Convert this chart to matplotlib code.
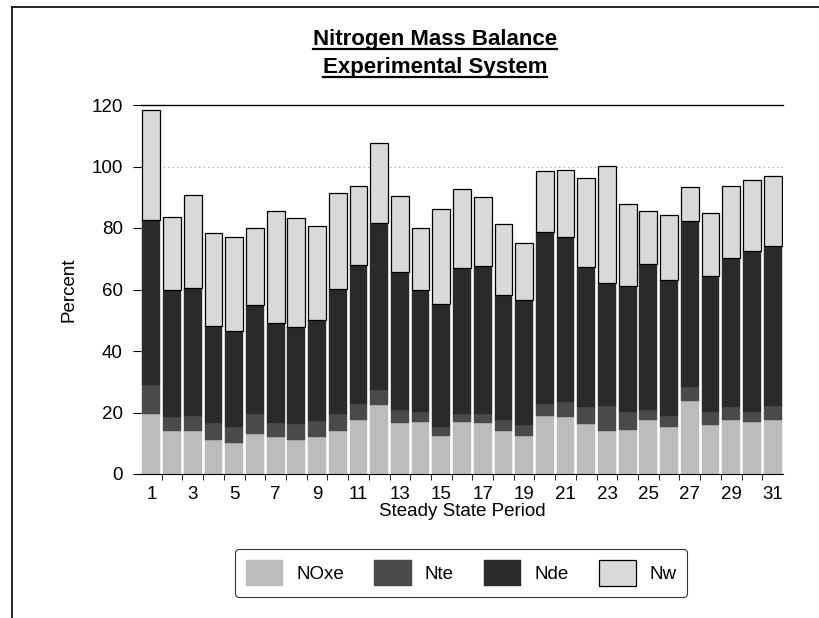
import matplotlib
matplotlib.use('Agg')
import matplotlib.pyplot as plt
from matplotlib.lines import Line2D
import numpy as np

plt.rcParams['font.family'] = ['Liberation Sans', 'DejaVu Sans']

# Данные: доли азота по периодам (%)
periods = list(range(1, 32))
noxe = [19.6, 14.1, 14.1, 11.0, 10.0, 13.0, 12.0, 10.9, 12.0, 14.1, 17.6, 22.3, 16.5, 16.8, 12.2, 16.8,
        16.5, 14.1, 12.5, 19.0, 18.5, 16.3, 14.1, 14.3, 17.4, 15.2, 23.9, 15.8, 17.4, 16.8, 17.4]
nte = [9.2, 4.4, 4.9, 5.5, 5.2, 6.6, 4.5, 5.2, 5.2, 5.5, 5.2, 5.1, 4.2, 3.3, 3.0, 2.8,
       3.1, 3.3, 3.3, 3.8, 4.9, 5.4, 7.9, 5.8, 3.3, 3.8, 4.4, 4.3, 4.3, 3.3, 4.6]
nde = [53.8, 41.5, 41.5, 31.5, 31.2, 35.3, 32.6, 31.7, 33.0, 40.7, 45.1, 54.3, 45.1, 39.7, 40.0, 47.5,
       48.1, 40.8, 40.9, 56.0, 53.8, 45.7, 40.2, 41.1, 47.5, 44.0, 54.1, 44.2, 48.4, 52.5, 52.1]
nw = [35.9, 23.7, 30.3, 30.3, 30.8, 25.0, 36.4, 35.6, 30.4, 31.2, 25.6, 26.1, 24.6, 20.1, 30.9, 25.5,
      22.5, 23.0, 18.5, 19.6, 21.7, 28.8, 38.0, 26.5, 17.3, 21.2, 10.9, 20.5, 23.4, 23.1, 22.9]

series = [('NOxe', noxe, '#bcbcbc'), ('Nte', nte, '#4a4a4a'),
          ('Nde', nde, '#2a2a2a'), ('Nw', nw, '#d9d9d9')]

fig = plt.figure(figsize=(8.19, 6.18), dpi=100)
ax = fig.add_axes([141 / 819, 1 - 474 / 618, 642 / 819, 369 / 618])

x = np.array(periods)
bottom = np.zeros(len(periods))
for name, vals, col in series:
    edge = 'black' if name == 'Nw' else col
    ax.bar(x, vals, width=0.86, bottom=bottom, color=col, edgecolor=edge,
           linewidth=0.9 if name == 'Nw' else 0.3, label=name, zorder=2)
    bottom += np.array(vals)

ax.axhline(100, color='#999999', linestyle=(0, (1, 3)), linewidth=0.8, zorder=0)

ax.set_xlim(0.5, 31.5)
ax.set_ylim(0, 120)
ax.set_yticks(range(0, 121, 20))
ax.set_xticks(periods[::2])
ax.set_xticks(np.arange(1.5, 31.5, 1), minor=True)
ax.tick_params(axis='x', which='major', length=0, labelsize=13.5, pad=8.5)
ax.tick_params(axis='x', which='minor', length=4, direction='out')
ax.tick_params(axis='y', length=6, labelsize=13.5, pad=7)

for s in ['right', 'left']:
    ax.spines[s].set_visible(False)
ax.spines['top'].set_linewidth(1.0)
ax.spines['bottom'].set_linewidth(0.8)

ax.set_xlabel('Steady State Period', fontsize=13.5, labelpad=0)
ax.set_ylabel('Percent', fontsize=13.5, labelpad=10)

# Заголовок с подчёркиванием
t1 = fig.text(435 / 819, 1 - 40 / 618, 'Nitrogen Mass Balance', ha='center', va='center',
              fontsize=16, fontweight='bold')
t2 = fig.text(435 / 819, 1 - 68 / 618, 'Experimental System', ha='center', va='center',
              fontsize=16, fontweight='bold')
fig.canvas.draw()
r = fig.canvas.get_renderer()
for t in (t1, t2):
    bb = t.get_window_extent(r).transformed(fig.transFigure.inverted())
    fig.add_artist(Line2D([bb.x0, bb.x1], [bb.y0 + 0.003, bb.y0 + 0.003],
                          transform=fig.transFigure, color='black', linewidth=1.6))

# Рамка
fig.add_artist(Line2D([12 / 819, 1], [1 - 7 / 618, 1 - 7 / 618], transform=fig.transFigure,
                      color='black', linewidth=1.2))
fig.add_artist(Line2D([12 / 819, 12 / 819], [0, 1 - 7 / 618], transform=fig.transFigure,
                      color='black', linewidth=1.2))

leg = fig.legend(loc='center', bbox_to_anchor=(461 / 819, 1 - 573 / 618), ncol=4,
                 fontsize=13.5, frameon=True, fancybox=True, edgecolor='black',
                 handlelength=2.0, handleheight=1.8, columnspacing=1.6, handletextpad=0.7,
                 borderpad=0.55)
leg.get_frame().set_linewidth(0.8)

plt.savefig('out.png', dpi=100)
